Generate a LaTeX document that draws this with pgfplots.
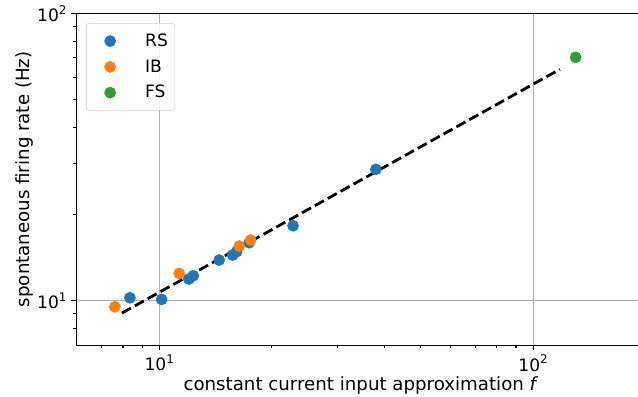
\documentclass[border=0pt]{standalone}
\usepackage{fontspec}
\setmainfont{DejaVu Sans}
\usepackage{pgfplots}
\pgfplotsset{compat=1.18}
\definecolor{tabblue}{HTML}{1F77B4}
\definecolor{taborange}{HTML}{FF7F0E}
\definecolor{tabgreen}{HTML}{2CA02C}
\definecolor{gridgray}{HTML}{B0B0B0}
\definecolor{leggray}{HTML}{CCCCCC}
\newcommand{\fs}{\fontsize{12.3}{14.8}\selectfont}
\newcommand{\fl}{\fontsize{13.1}{15.7}\selectfont}
\newcommand{\tp}[1]{10\raisebox{0.42em}{\fontsize{8.6}{10}\selectfont #1}}
\begin{document}
\begin{tikzpicture}
\begin{axis}[
  at={(0,0)}, anchor=south west,
  scale only axis, width=409.9pt, height=239pt,
  xmode=log, ymode=log,
  xmin=6, xmax=200, ymin=7, ymax=100,
  xtick={10,100}, xticklabels={\tp{1},\tp{2}},
  minor xtick={7,8,9,20,30,40,50,60,70,80,90},
  ytick={10,100}, yticklabels={\tp{1},\tp{2}},
  minor ytick={8,9,20,30,40,50,60,70,80,90},
  tick align=outside, tick pos=left,
  major tick length=3.5pt, minor tick length=2pt,
  every tick/.style={black, line width=0.8pt},
  axis line style={line width=0.8pt},
  grid=major, major grid style={line width=0.8pt, gridgray},
  tick label style={font=\fs},
  xlabel={constant current input approximation \textit{f}},
  ylabel={spontaneous firing rate (Hz)},
  every axis x label/.style={at={(axis description cs:0.5,-0.1197)}, anchor=center, font=\fl},
  every axis y label/.style={at={(axis description cs:-0.0910,0.5)}, rotate=90, anchor=center, font=\fl},
  legend style={at={(0,1)}, anchor=north west, xshift=7pt, yshift=-7pt,
    draw=leggray, rounded corners=2pt, fill=white, fill opacity=0.8, text opacity=1,
    font=\fs, row sep=4pt, inner xsep=3pt, inner ysep=5.5pt},
  legend cell align=left,
  legend image code/.code={\path (0pt,0pt) (37pt,0pt); \draw[#1, fill opacity=1] plot coordinates {(14pt,0pt)};},
]
\addplot[only marks, mark=*, mark size=4pt, color=tabblue, mark options={draw=tabblue, fill=tabblue}] coordinates {
(8.35,10.24) (10.15,10.11) (12.0,11.9) (12.33,12.22) (14.47,13.86) (15.72,14.42) (16.1,14.81) (17.4,15.92) (22.8,18.24) (37.97,28.66)
};
\addlegendentry{RS}
\addplot[only marks, mark=*, mark size=4pt, color=taborange, mark options={draw=taborange, fill=taborange}] coordinates {
(7.61,9.53) (11.31,12.45) (16.37,15.5) (17.56,16.26)
};
\addlegendentry{IB}
\addplot[only marks, mark=*, mark size=4pt, color=tabgreen, mark options={draw=tabgreen, fill=tabgreen}] coordinates {
(129.9,70.3)
};
\addlegendentry{FS}
\addplot[forget plot, black, line width=2pt, dash pattern=on 7.4pt off 3.2pt] coordinates {
(7.95,9.06) (117.9,63.86)
};
\end{axis}
\pgfresetboundingbox
\useasboundingbox (-54.9pt,-36.5pt) rectangle (404.4pt,248.6pt);
\end{tikzpicture}
\end{document}
